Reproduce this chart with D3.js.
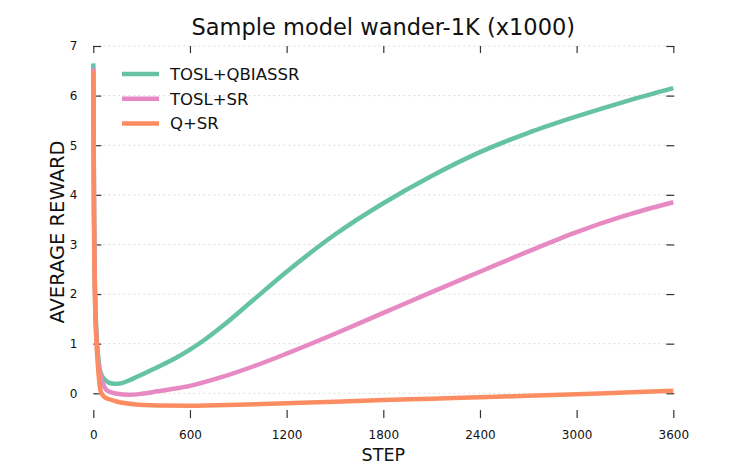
<!DOCTYPE html>
<html>
<head>
<meta charset="utf-8">
<script src="https://cdn.jsdelivr.net/npm/d3@7"></script>
<style>
  body { margin: 0; background: #fff; }
  text { font-family: "DejaVu Sans", sans-serif; }
</style>
</head>
<body>
<svg id="chart" width="750" height="465"></svg>
<script>
// data
const seriesNames = ["TOSL+QBIASSR", "TOSL+SR", "Q+SR"];
const seriesColors = ["#66c2a5", "#e78ac3", "#fc8d62"];

const stepsGreen = [0, 5, 10, 20, 30, 45, 70, 100, 130, 170, 250, 400, 500, 600, 700, 800, 1000, 1200, 1500, 1800, 2100, 2400, 2700, 3000, 3300, 3600];
const rewardGreen = [6.65, 3.5, 2.2, 1.2, 0.75, 0.42, 0.28, 0.21, 0.19, 0.2, 0.3, 0.53, 0.69, 0.88, 1.1, 1.35, 1.9, 2.45, 3.2, 3.83, 4.38, 4.86, 5.25, 5.58, 5.88, 6.15];

const stepsPink = [0, 5, 10, 20, 30, 45, 70, 100, 150, 220, 300, 400, 500, 600, 800, 1000, 1200, 1500, 1800, 2100, 2400, 2700, 3000, 3300, 3600];
const rewardPink = [6.55, 3.4, 2.1, 1.1, 0.65, 0.35, 0.12, 0.03, -0.01, -0.03, -0.01, 0.04, 0.09, 0.15, 0.33, 0.55, 0.8, 1.2, 1.62, 2.04, 2.45, 2.86, 3.25, 3.58, 3.85];

const stepsOrange = [0, 5, 10, 20, 30, 45, 70, 100, 150, 250, 400, 600, 900, 1200, 1500, 1800, 2100, 2400, 2700, 3000, 3300, 3600];
const rewardOrange = [6.5, 3.2, 2.0, 1.0, 0.5, 0.05, -0.08, -0.12, -0.17, -0.22, -0.245, -0.25, -0.23, -0.2, -0.17, -0.135, -0.11, -0.08, -0.05, -0.02, 0.015, 0.05];

const xTicks = [0, 600, 1200, 1800, 2400, 3000, 3600];
const yTicks = [0, 1, 2, 3, 4, 5, 6, 7];

const allSteps = [stepsGreen, stepsPink, stepsOrange];
const allRewards = [rewardGreen, rewardPink, rewardOrange];

// layout
const plotLeft = 93.3, plotRight = 673.3, plotTop = 46, plotBottom = 418.1;

const svg = d3.select('#chart');

const x = d3.scaleLinear().domain([0, 3600]).range([plotLeft, plotRight]);
const y = d3.scaleLinear().domain([-0.5, 7]).range([plotBottom, plotTop]);

// dotted grid
svg.append('g')
    .selectAll('line')
    .data(yTicks)
    .enter()
    .append('line')
    .attr('x1', plotLeft)
    .attr('x2', plotRight)
    .attr('y1', d => y(d))
    .attr('y2', d => y(d))
    .attr('stroke', '#dcdcdc')
    .attr('stroke-width', 1)
    .attr('stroke-dasharray', '2,3');

// axes, ticks pointing inward, no spines
function styleAxis(g) {
  g.select('.domain').remove();
  g.selectAll('.tick line').attr('stroke', '#333').attr('stroke-width', 1.2);
  g.selectAll('.tick text')
      .attr('font-family', 'DejaVu Sans')
      .attr('font-size', 12)
      .attr('fill', '#111');
}

svg.append('g')
    .attr('transform', 'translate(0,' + plotBottom + ')')
    .call(d3.axisBottom(x).tickValues(xTicks).tickFormat(d3.format('d')).tickSizeInner(-8).tickSizeOuter(0).tickPadding(12))
    .call(styleAxis);

svg.append('g')
    .attr('transform', 'translate(0,' + plotTop + ')')
    .call(d3.axisTop(x).tickValues(xTicks).tickSizeInner(-7).tickSizeOuter(0).tickFormat(''))
    .call(styleAxis);

svg.append('g')
    .attr('transform', 'translate(' + plotLeft + ',0)')
    .call(d3.axisLeft(y).tickValues(yTicks).tickSizeInner(-8).tickSizeOuter(0).tickPadding(16))
    .call(styleAxis);

svg.append('g')
    .attr('transform', 'translate(' + (plotRight + 1) + ',0)')
    .call(d3.axisRight(y).tickValues(yTicks).tickSizeInner(-8).tickSizeOuter(0).tickFormat(''))
    .call(styleAxis);

// lines
const line = d3.line()
    .x(d => x(d[0]))
    .y(d => y(d[1]))
    .curve(d3.curveMonotoneX);

seriesNames.forEach(function(name, i) {
  const pts = allSteps[i].map((s, j) => [s, allRewards[i][j]]);
  svg.append('path')
      .datum(pts)
      .attr('fill', 'none')
      .attr('stroke', seriesColors[i])
      .attr('stroke-width', 4.5)
      .attr('stroke-linejoin', 'round')
      .attr('d', line);
});

// legend
const legend = svg.append('g');
seriesNames.forEach(function(name, i) {
  const ly = 74 + i * 24.7;
  legend.append('line')
      .attr('x1', 122).attr('x2', 159)
      .attr('y1', ly).attr('y2', ly)
      .attr('stroke', seriesColors[i])
      .attr('stroke-width', 4.5);
  legend.append('text')
      .attr('x', 170)
      .attr('y', ly + 6)
      .attr('font-size', 16.5)
      .attr('fill', '#111')
      .text(name);
});

// titles
svg.append('text')
    .attr('x', (plotLeft + plotRight) / 2)
    .attr('y', 35)
    .attr('text-anchor', 'middle')
    .attr('font-size', 22.5)
    .attr('fill', '#111')
    .text('Sample model wander-1K (x1000)');

svg.append('text')
    .attr('x', (plotLeft + plotRight) / 2)
    .attr('y', 461)
    .attr('text-anchor', 'middle')
    .attr('font-family', 'Open Sans')
    .attr('font-size', 17.5)
    .attr('fill', '#111')
    .text('STEP');

svg.append('text')
    .attr('transform', 'translate(64,' + 232 + ') rotate(-90)')
    .attr('text-anchor', 'middle')
    .attr('font-family', 'Open Sans')
    .attr('font-size', 19.5)
    .attr('fill', '#111')
    .text('AVERAGE REWARD');
</script>
</body>
</html>
